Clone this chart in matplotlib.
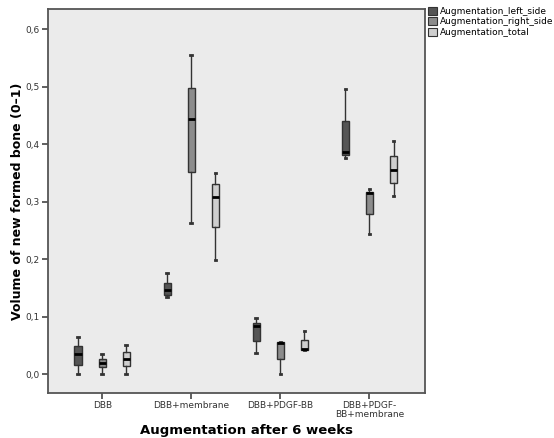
import numpy as np
import matplotlib
matplotlib.use('Agg')
import matplotlib.pyplot as plt
from matplotlib.patches import Patch
from matplotlib.ticker import FuncFormatter

# groups on the x axis
groups = ['DBB', 'DBB+membrane', 'DBB+PDGF-BB', 'DBB+PDGF-\nBB+membrane']
series = ['Augmentation_left_side', 'Augmentation_right_side', 'Augmentation_total']
colors = ['#555555', '#8c8c8c', '#cfcfcf']

# per series: [DBB, DBB+membrane, DBB+PDGF-BB, DBB+PDGF-BB+membrane]
left_whislo = [0.000, 0.134, 0.036, 0.375]
left_q1 = [0.016, 0.137, 0.058, 0.381]
left_med = [0.034, 0.146, 0.083, 0.387]
left_q3 = [0.049, 0.159, 0.089, 0.440]
left_whishi = [0.064, 0.175, 0.097, 0.495]

right_whislo = [0.000, 0.263, 0.000, 0.243]
right_q1 = [0.013, 0.352, 0.026, 0.279]
right_med = [0.019, 0.443, 0.054, 0.315]
right_q3 = [0.027, 0.498, 0.056, 0.317]
right_whishi = [0.034, 0.555, 0.056, 0.321]

total_whislo = [0.000, 0.198, 0.042, 0.310]
total_q1 = [0.014, 0.255, 0.042, 0.332]
total_med = [0.027, 0.308, 0.043, 0.354]
total_q3 = [0.038, 0.330, 0.060, 0.380]
total_whishi = [0.050, 0.350, 0.075, 0.406]

all_stats = [
    (left_whislo, left_q1, left_med, left_q3, left_whishi),
    (right_whislo, right_q1, right_med, right_q3, right_whishi),
    (total_whislo, total_q1, total_med, total_q3, total_whishi),
]

fig = plt.figure(figsize=(5.54, 4.38), dpi=100)
ax = fig.add_axes([0.0866, 0.1027, 0.680, 0.877])
ax.set_facecolor('#ebebeb')

offsets = [-0.27, 0.0, 0.27]
x = np.arange(len(groups))
for s, (lo, q1, med, q3, hi) in enumerate(all_stats):
    stats = []
    for i in range(len(groups)):
        stats.append({'whislo': lo[i], 'q1': q1[i], 'med': med[i],
                      'q3': q3[i], 'whishi': hi[i], 'fliers': []})
    ax.bxp(stats, positions=x + offsets[s], widths=0.085, patch_artist=True,
           showfliers=False, manage_ticks=False,
           boxprops=dict(facecolor=colors[s], edgecolor='#333333', linewidth=1.0),
           medianprops=dict(color='black', linewidth=2.0),
           whiskerprops=dict(color='#333333', linewidth=1.0),
           capprops=dict(color='#333333', linewidth=2.0),
           capwidths=0.02)

ax.set_xlim(-0.61, 3.62)
ax.set_ylim(-0.033, 0.635)
ax.set_xticks(x)
ax.set_xticklabels(groups, fontsize=6.5, color='#333333', linespacing=0.9)
ax.set_yticks([0.0, 0.1, 0.2, 0.3, 0.4, 0.5, 0.6])
ax.yaxis.set_major_formatter(FuncFormatter(lambda v, p: ('%.1f' % v).replace('.', ',')))
ax.tick_params(axis='y', labelsize=6.5, labelcolor='#333333')
ax.tick_params(axis='both', length=4, width=1.2, color='#444444', pad=2)
for sp in ax.spines.values():
    sp.set_color('#555555')
    sp.set_linewidth(1.3)

ax.set_ylabel('Volume of new formed bone (0\u20131)', fontsize=9, fontweight='bold', labelpad=1)
fig.text(0.445, 0.002, 'Augmentation after 6 weeks', fontsize=9.5, fontweight='bold',
         ha='center', va='bottom')

handles = [Patch(facecolor=c, edgecolor='#333333', linewidth=0.8) for c in colors]
fig.legend(handles, series, loc='upper left', bbox_to_anchor=(0.772, 0.985),
           frameon=False, fontsize=6.5, handlelength=1.0, handleheight=1.0,
           handletextpad=0.4, labelspacing=0.15, borderaxespad=0, borderpad=0)

fig.savefig('out.png', dpi=100)
